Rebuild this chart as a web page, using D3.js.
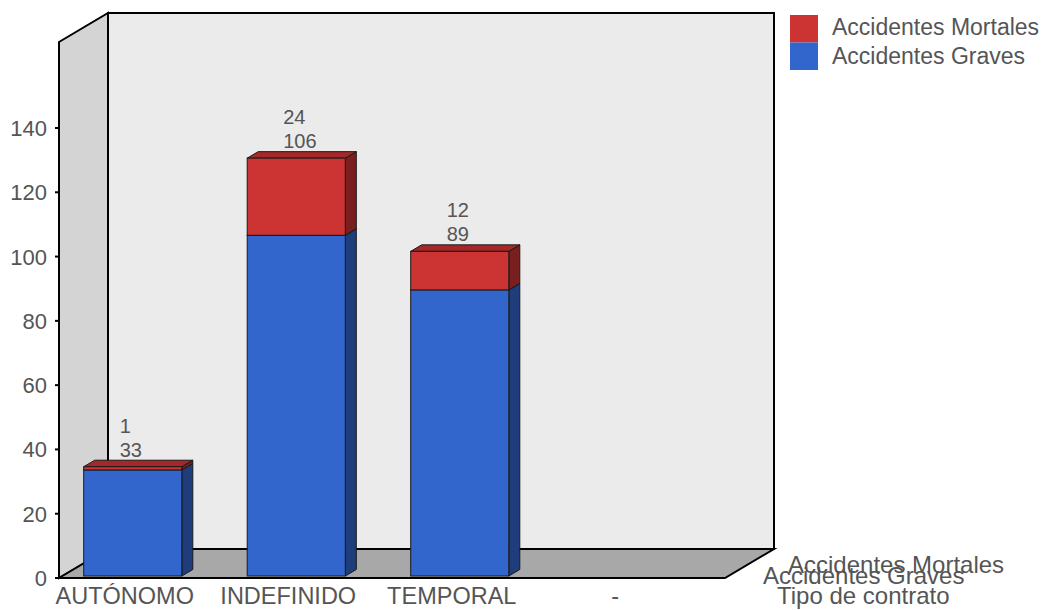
<!DOCTYPE html>
<html>
<head>
<meta charset="utf-8">
<script src="https://cdn.jsdelivr.net/npm/d3@7"></script>
<style>
  body { margin: 0; background: #fff; }
  text { font-family: "Liberation Sans", Arial, sans-serif; fill: #555; }
</style>
</head>
<body>
<script>
// data
var categories = ["AUTÓNOMO", "INDEFINIDO", "TEMPORAL", "-"];
var graves = [33, 106, 89, 0];
var mortales = [1, 24, 12, 0];
var seriesNames = ["Accidentes Graves", "Accidentes Mortales"];
var tickValues = [0, 20, 40, 60, 80, 100, 120, 140];
var xTitle = "Tipo de contrato";

var width = 1053,
    height = 610,
    left = 59,
    right = 725,
    bottom = 578,
    wallDx = 49,
    wallDy = -29,
    barDx = 11,
    barDy = -6.5,
    barShiftY = -2;

var y = d3.scaleLinear().domain([0, 140]).range([bottom, 128]);
var yMax = y.invert(42);
var topY = y(yMax);

var x = d3.scaleBand()
    .domain(categories)
    .range([51, 705])
    .paddingInner(0.4)
    .paddingOuter(0.2);

var svg = d3.select("body").append("svg")
    .attr("width", width)
    .attr("height", height);

function pts(a) { return a.map(function (p) { return p.join(","); }).join(" "); }

// walls
svg.append("polygon")   // back wall
    .attr("points", pts([[left + wallDx, topY + wallDy], [right + wallDx, topY + wallDy],
        [right + wallDx, bottom + wallDy], [left + wallDx, bottom + wallDy]]))
    .attr("fill", "#ebebeb").attr("stroke", "#000").attr("stroke-width", 2);

svg.append("polygon")   // side wall
    .attr("points", pts([[left, topY], [left + wallDx, topY + wallDy],
        [left + wallDx, bottom + wallDy], [left, bottom]]))
    .attr("fill", "#d4d4d4").attr("stroke", "#000").attr("stroke-width", 2);

svg.append("polygon")   // floor
    .attr("points", pts([[left, bottom], [left + wallDx, bottom + wallDy],
        [right + wallDx, bottom + wallDy], [right, bottom]]))
    .attr("fill", "#a8a8a8").attr("stroke", "#000").attr("stroke-width", 2);

// y axis
var axis = svg.append("g");
axis.append("line")
    .attr("x1", left).attr("x2", left)
    .attr("y1", topY).attr("y2", bottom)
    .attr("stroke", "#000").attr("stroke-width", 2);
var ticks = axis.selectAll(".tick").data(tickValues).enter().append("g").attr("class", "tick");
ticks.append("line")
    .attr("x1", left - 4).attr("x2", left)
    .attr("y1", function (d) { return y(d); })
    .attr("y2", function (d) { return y(d); })
    .attr("stroke", "#000").attr("stroke-width", 2);
ticks.append("text")
    .attr("x", left - 12)
    .attr("y", function (d) { return y(d) + 8; })
    .attr("text-anchor", "end")
    .attr("font-size", "22px")
    .text(function (d) { return d; });

// bars
function box(g, x0, w, v0, v1, cFront, cTop, cSide) {
    var xa = x0, xb = xa + w;
    var ya = y(v1) + barShiftY, yb = y(v0) + barShiftY;
    g.append("polygon")
        .attr("points", pts([[xb, ya], [xb + barDx, ya + barDy], [xb + barDx, yb + barDy], [xb, yb]]))
        .attr("fill", cSide).attr("stroke", "#1a1a1a").attr("stroke-width", 1);
    g.append("polygon")
        .attr("points", pts([[xa, ya], [xa + barDx, ya + barDy], [xb + barDx, ya + barDy], [xb, ya]]))
        .attr("fill", cTop).attr("stroke", "#1a1a1a").attr("stroke-width", 1);
    g.append("rect")
        .attr("x", xa).attr("y", ya)
        .attr("width", w).attr("height", yb - ya)
        .attr("fill", cFront).attr("stroke", "#1a1a1a").attr("stroke-width", 1);
}

var bars = svg.append("g");
categories.forEach(function (c, i) {
    if (graves[i] + mortales[i] === 0) return;
    var g = bars.append("g");
    box(g, x(c), x.bandwidth(), 0, graves[i], "#3366cc", "#2a52a3", "#1f3d7a");
    box(g, x(c), x.bandwidth(), graves[i], graves[i] + mortales[i], "#cc3333", "#a52828", "#7a1f1f");

    var cx = x(c) + x.bandwidth() / 2 - 13;
    var t = y(graves[i] + mortales[i]);
    g.append("text").attr("x", cx).attr("y", t - 12)
        .attr("font-size", "20px").text(graves[i]);
    g.append("text").attr("x", cx).attr("y", t - 36)
        .attr("font-size", "20px").text(mortales[i]);
});

// category labels
svg.selectAll(".cat").data(categories).enter().append("text")
    .attr("class", "cat")
    .attr("x", function (d) { return x(d) + x.bandwidth() / 2 - 8; })
    .attr("y", 604)
    .attr("text-anchor", "middle")
    .attr("font-size", "23.5px")
    .text(function (d) { return d; });

// series / axis titles at the bottom right
svg.append("text").attr("x", 788).attr("y", 573).attr("font-size", "24px").text(seriesNames[1]);
svg.append("text").attr("x", 763).attr("y", 584).attr("font-size", "24px").text(seriesNames[0]);
svg.append("text").attr("x", 777).attr("y", 604).attr("font-size", "24px").text(xTitle);

// legend
var legend = svg.append("g").attr("transform", "translate(790,15)");
var legendItems = [{ name: seriesNames[1], color: "#cc3333" }, { name: seriesNames[0], color: "#3366cc" }];
legendItems.forEach(function (d, i) {
    legend.append("rect")
        .attr("x", 0).attr("y", i * 27.5)
        .attr("width", 28).attr("height", 27.5)
        .attr("fill", d.color);
    legend.append("text")
        .attr("x", 42).attr("y", i * 29 + 20)
        .attr("font-size", "23px")
        .text(d.name);
});
</script>
</body>
</html>
